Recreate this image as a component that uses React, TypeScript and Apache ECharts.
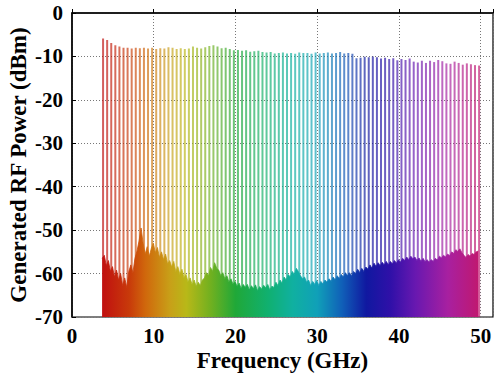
import React, { useEffect, useRef } from 'react';
import * as echarts from 'echarts';

// Comb lines: frequencies start at 3.8 GHz, spaced 0.5 GHz
const LINE_START = 3.8;
const LINE_STEP = 0.5;
const peakPower = [
  -5.9, -6.2, -6.9, -7.4, -7.7, -8.0, -8.0, -8.2, -8.0, -8.1,
  -8.0, -8.2, -8.0, -8.3, -8.1, -8.2, -7.9, -8.0, -8.3, -8.1,
  -8.3, -8.2, -7.7, -8.0, -8.2, -7.9, -7.6, -7.4, -7.7, -8.1,
  -8.0, -8.3, -8.6, -8.5, -8.7, -8.6, -8.9, -8.8, -8.7, -9.0,
  -9.1, -9.0, -9.3, -9.2, -9.1, -9.3, -9.2, -9.4, -9.1, -9.2,
  -9.2, -9.4, -9.1, -9.3, -9.2, -9.1, -9.3, -9.2, -9.0, -9.3,
  -9.2, -9.4, -10.4, -10.3, -10.1, -10.2, -10.0, -10.2, -10.5, -10.3,
  -10.6, -10.4, -10.9, -10.6, -10.8, -10.5, -11.2, -11.4, -11.0, -11.5,
  -11.0, -11.3, -10.8, -11.1, -11.6, -11.7, -11.2, -11.5, -11.9, -11.6,
  -11.8, -12.0, -12.1,
];

// Noise floor: starts at 3.7 GHz, sampled every 0.25 GHz
const NOISE_START = 3.7;
const NOISE_STEP = 0.25;
const noiseFloor = [
  -56.5, -55.8, -58.2, -57.0, -59.5, -58.4, -60.8, -59.2, -61.5, -60.0,
  -62.8, -61.0, -63.2, -59.5, -58.0, -59.8, -56.5, -54.8, -52.5, -49.5,
  -53.0, -55.5, -53.8, -56.0, -54.2, -53.0, -55.2, -54.0, -56.3, -55.0,
  -56.8, -55.5, -57.8, -57.0, -58.5, -57.2, -59.6, -58.4, -60.2, -59.0,
  -61.0, -60.2, -62.0, -61.0, -62.6, -61.5, -63.0, -62.0, -62.8, -61.5,
  -61.0, -59.8, -60.5, -58.6, -59.5, -57.5, -58.8, -59.2, -60.5, -59.8,
  -61.2, -60.5, -62.0, -61.2, -62.5, -61.8, -63.0, -62.2, -63.5, -62.5,
  -63.2, -62.5, -63.8, -62.8, -63.5, -62.6, -64.0, -63.0, -63.6, -62.7,
  -63.3, -62.5, -63.8, -62.9, -63.2, -62.0, -62.8, -61.5, -62.2, -60.8,
  -61.5, -60.2, -60.8, -59.5, -60.2, -58.8, -59.6, -60.5, -61.2, -60.8,
  -62.0, -61.5, -62.8, -61.8, -62.5, -61.6, -62.8, -61.8, -62.4, -61.5,
  -62.0, -61.2, -61.8, -60.8, -61.5, -60.5, -61.2, -60.2, -60.8, -59.8,
  -60.5, -59.8, -60.6, -59.5, -60.0, -59.0, -59.8, -58.8, -59.5, -58.5,
  -59.0, -58.0, -58.8, -57.6, -58.4, -57.5, -58.2, -57.4, -58.0, -57.2,
  -58.0, -57.2, -57.8, -57.0, -57.6, -56.8, -57.4, -56.5, -57.0, -56.2,
  -56.8, -56.0, -56.6, -56.2, -57.0, -56.4, -57.2, -56.5, -57.3, -56.8,
  -57.4, -56.8, -57.2, -56.5, -56.9, -56.0, -56.4, -55.8, -56.2, -55.5,
  -55.9, -55.0, -55.4, -54.5, -54.9, -54.3, -55.2, -55.8, -56.3, -55.6,
  -56.0, -55.4, -55.6, -55.0, -54.8,
];

const X_MIN = 0;
const X_MAX = 51.5;
const X_INTERVAL = 10;
const Y_MIN = -70;
const Y_MAX = 0;
const Y_INTERVAL = 10;

const X_TITLE = 'Frequency (GHz)';
const Y_TITLE = 'Generated RF Power (dBm)';

// rainbow colour map along frequency
const rainbow: [number, string][] = [
  [3.7, '#c01010'],
  [7, '#c83a0a'],
  [9, '#d0680c'],
  [12, '#c8a018'],
  [14, '#b8b818'],
  [17, '#70b020'],
  [20, '#20a838'],
  [24, '#10b070'],
  [27, '#10b0a0'],
  [30, '#10a0b8'],
  [33, '#1060b8'],
  [36, '#1018a0'],
  [39, '#3010a8'],
  [42, '#6818b0'],
  [46, '#a820a0'],
  [49.7, '#c01870'],
];

function hexToRgb(h: string) {
  return [parseInt(h.slice(1, 3), 16), parseInt(h.slice(3, 5), 16), parseInt(h.slice(5, 7), 16)];
}
function colorAt(f: number) {
  if (f <= rainbow[0][0]) return rainbow[0][1];
  for (let i = 1; i < rainbow.length; i++) {
    if (f <= rainbow[i][0]) {
      const [f0, c0] = rainbow[i - 1];
      const [f1, c1] = rainbow[i];
      const t = (f - f0) / (f1 - f0);
      const a = hexToRgb(c0), b = hexToRgb(c1);
      const c = a.map((v, k) => Math.round(v + (b[k] - v) * t));
      return `rgb(${c[0]},${c[1]},${c[2]})`;
    }
  }
  return rainbow[rainbow.length - 1][1];
}

const FONT = 'Liberation Serif';

export default function App() {
  const ref = useRef<HTMLDivElement>(null);
  useEffect(() => {
    if (!ref.current) return;
    const chart = echarts.init(ref.current, undefined, { renderer: 'svg' });

    const lineData = peakPower.map((v, i) => [LINE_START + i * LINE_STEP, v]);
    const noiseData = noiseFloor.map((v, i) => [NOISE_START + i * NOISE_STEP, v]);
    const nStart = noiseData[0][0];
    const nEnd = noiseData[noiseData.length - 1][0];
    const stops = rainbow.map(([f, c]) => ({
      offset: Math.min(1, Math.max(0, (f - nStart) / (nEnd - nStart))),
      color: c,
    }));

    const labelStyle = { color: '#000', fontFamily: FONT, fontWeight: 'bold' as const, fontSize: 21 };

    chart.setOption({
      animation: false,
      backgroundColor: '#fff',
      grid: {
        left: 72, right: 2, top: 13, bottom: 58,
        containLabel: false,
        outerBoundsMode: 'none',
        show: true, borderColor: '#000', borderWidth: 1.2, backgroundColor: 'transparent',
      },
      xAxis: [
        {
          type: 'value', min: X_MIN, max: X_MAX, interval: X_INTERVAL,
          name: X_TITLE, nameLocation: 'middle', nameGap: 32,
          nameMoveOverlap: false,
          nameTextStyle: { ...labelStyle, fontSize: 23 },
          axisLine: { show: true, lineStyle: { color: '#000', width: 1.5 } },
          axisTick: { show: true, inside: true, length: 4, lineStyle: { color: '#000' } },
          axisLabel: {
            ...labelStyle, margin: 8,
            formatter: (v: number) => (v % X_INTERVAL === 0 ? String(v) : ''),
          },
          splitLine: { show: true, lineStyle: { color: '#777', type: [1, 2], width: 1 } },
        },
      ],
      yAxis: [
        {
          type: 'value', min: Y_MIN, max: Y_MAX, interval: Y_INTERVAL,
          name: Y_TITLE, nameLocation: 'middle', nameGap: 42,
          nameMoveOverlap: false,
          nameTextStyle: { ...labelStyle, fontSize: 23 },
          axisLine: { show: true, lineStyle: { color: '#000', width: 1.5 } },
          axisTick: { show: true, inside: true, length: 4, lineStyle: { color: '#000' } },
          axisLabel: { ...labelStyle, margin: 9 },
          splitLine: { show: true, lineStyle: { color: '#777', type: [1, 2], width: 1 } },
        },
      ],
      series: [
        {
          type: 'custom',
          z: 2,
          data: lineData,
          renderItem: (params: any, api: any) => {
            const f = api.value(0);
            const v = api.value(1);
            const top = api.coord([f, v]);
            const bot = api.coord([f, Y_MIN]);
            return {
              type: 'line',
              shape: { x1: top[0], y1: top[1], x2: bot[0], y2: bot[1] },
              style: { stroke: colorAt(f), lineWidth: 2, opacity: 0.68 },
            };
          },
        },
        {
          type: 'line',
          z: 3,
          data: noiseData,
          showSymbol: false,
          symbol: 'none',
          lineStyle: { width: 0.8, color: new echarts.graphic.LinearGradient(0, 0, 1, 0, stops) },
          areaStyle: { origin: 'start', opacity: 1, color: new echarts.graphic.LinearGradient(0, 0, 1, 0, stops) },
        },
      ],
    });
    return () => chart.dispose();
  }, []);
  return <div ref={ref} style={{ position: 'fixed', left: 0, top: 0, width: 495, height: 375 }} />;
}
